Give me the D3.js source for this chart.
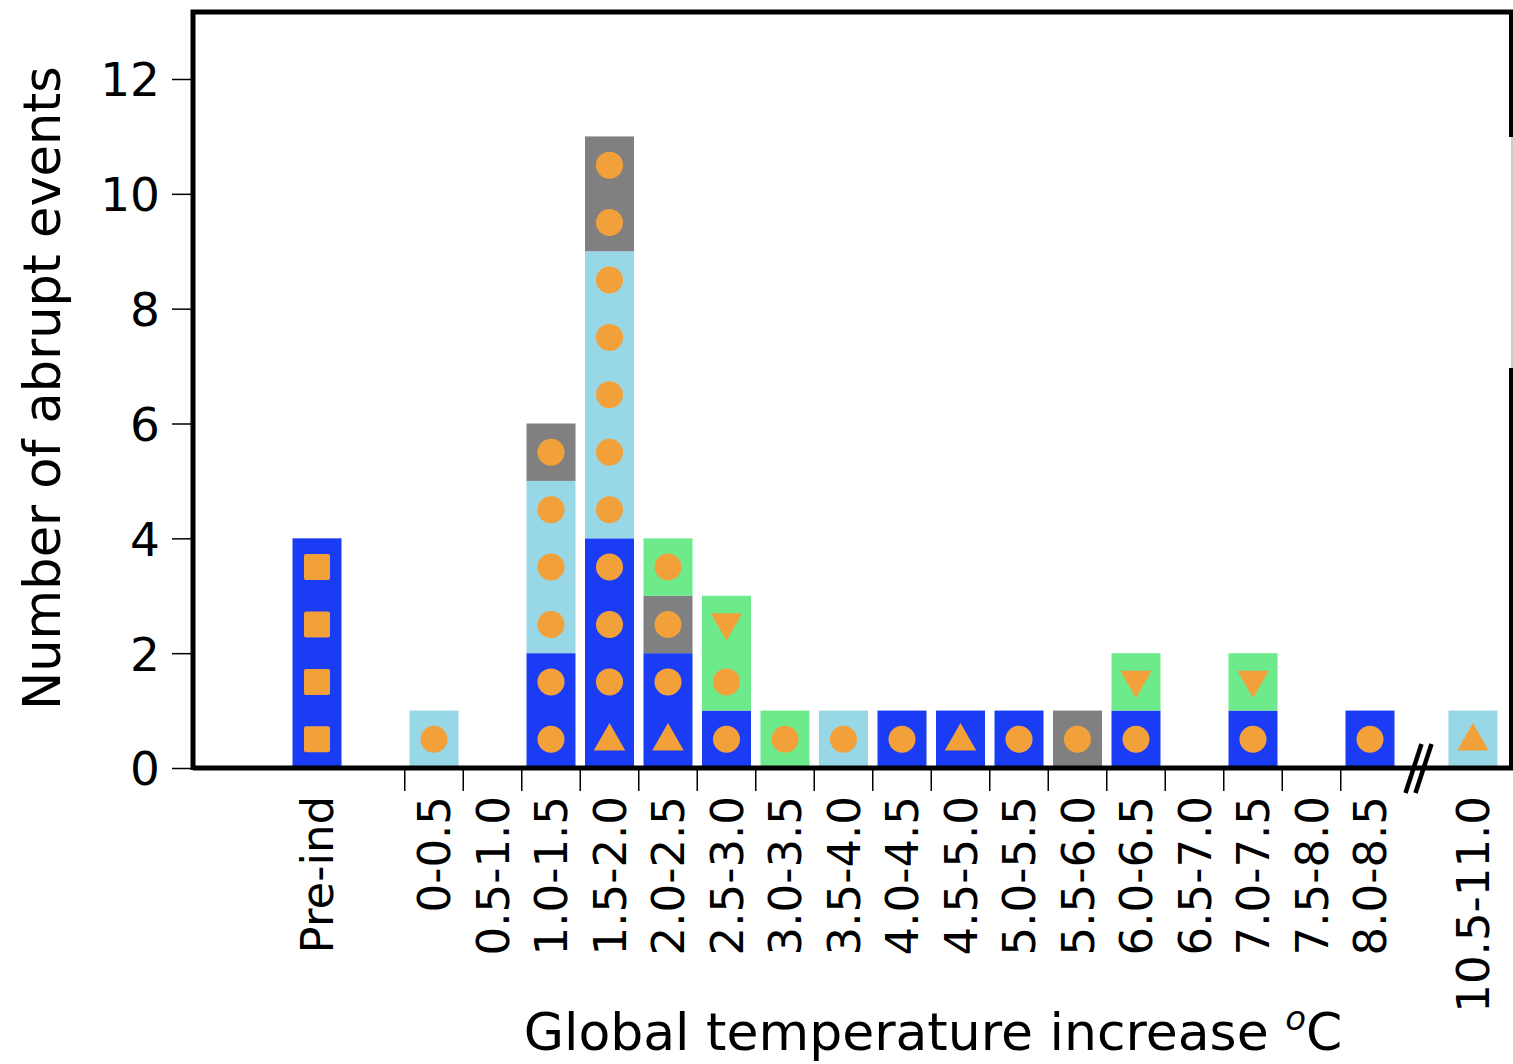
<!DOCTYPE html>
<html>
<head>
<meta charset="utf-8">
<script src="https://cdnjs.cloudflare.com/ajax/libs/d3/7.8.5/d3.min.js"></script>
<style>
  body { margin: 0; background: #fff; }
  text { font-family: 'DejaVu Sans', sans-serif; fill: #000; }
</style>
</head>
<body>
<div id="app"></div>
<script>
// categories (x bins) and counts per stack group, bottom to top
const categories = ['Pre-ind', '0-0.5', '0.5-1.0', '1.0-1.5', '1.5-2.0', '2.0-2.5', '2.5-3.0',
  '3.0-3.5', '3.5-4.0', '4.0-4.5', '4.5-5.0', '5.0-5.5', '5.5-6.0', '6.0-6.5', '6.5-7.0',
  '7.0-7.5', '7.5-8.0', '8.0-8.5', '10.5-11.0'];
const blueCounts  = [4, 0, 0, 2, 4, 2, 1, 0, 0, 1, 1, 1, 0, 1, 0, 1, 0, 1, 0];
const lightCounts = [0, 1, 0, 3, 5, 0, 0, 0, 1, 0, 0, 0, 0, 0, 0, 0, 0, 0, 1];
const grayCounts  = [0, 0, 0, 1, 2, 1, 0, 0, 0, 0, 0, 0, 1, 0, 0, 0, 0, 0, 0];
const greenCounts = [0, 0, 0, 0, 0, 1, 2, 1, 0, 0, 0, 0, 0, 1, 0, 1, 0, 0, 0];
// marker of each event, bottom to top: s square, c circle, u triangle up, d triangle down
const markers = ['ssss', 'c', '', 'cccccc', 'ucccccccccc', 'uccc', 'ccd', 'c', 'c', 'c', 'u', 'c',
  'c', 'cd', '', 'cd', '', 'c', 'u'];
const yTicks = [0, 2, 4, 6, 8, 10, 12];

const width = 1513;
const height = 1064;
const groups = ['blue', 'light', 'gray', 'green'];
const colors = { blue: '#1a3cf5', light: '#98d7e6', gray: '#808080', green: '#6deb8c' };
const orange = '#f2a13a';
const barWidth = 49;

// slot index along the axis: gap before 0-0.5 and a broken gap before 10.5-11.0
const slot = i => (i === 0 ? -2 : i === categories.length - 1 ? 17.76 : i - 1);

const svg = d3.select('#app').append('svg')
  .attr('width', width)
  .attr('height', height);

const x = d3.scaleLinear().domain([0, 1]).range([434, 492.5]);
const y = d3.scaleLinear().domain([0, 12]).range([768, 79]);

const rows = categories.map((c, i) => ({
  cat: c, i,
  blue: blueCounts[i], light: lightCounts[i], gray: grayCounts[i], green: greenCounts[i]
}));
const series = d3.stack().keys(groups)(rows);

// bars
svg.append('g')
  .selectAll('g')
  .data(series)
  .join('g')
  .attr('fill', d => colors[d.key])
  .selectAll('rect')
  .data(d => d.filter(s => s[1] > s[0]))
  .join('rect')
  .attr('x', d => x(slot(d.data.i)) - barWidth / 2)
  .attr('y', d => y(d[1]))
  .attr('width', barWidth)
  .attr('height', d => y(d[0]) - y(d[1]));

// markers
const pts = [];
markers.forEach((m, i) => m.split('').forEach((k, j) => pts.push({ i, k, v: j + 0.5 })));
const tri = d3.symbol().type(d3.symbolTriangle).size(430)();
const mk = svg.append('g').attr('fill', orange)
  .selectAll('g')
  .data(pts)
  .join('g')
  .attr('transform', d => `translate(${x(slot(d.i))},${y(d.v)})`);
mk.filter(d => d.k === 'c').append('circle').attr('r', 13.5);
mk.filter(d => d.k === 's').append('rect')
  .attr('x', -13).attr('y', -13).attr('width', 26).attr('height', 26).attr('rx', 2);
mk.filter(d => d.k === 'u').append('path').attr('d', tri).attr('transform', 'translate(0,2)');
mk.filter(d => d.k === 'd').append('path').attr('d', tri).attr('transform', 'translate(0,-2) rotate(180)');

// y axis
const yAxis = svg.append('g')
  .attr('transform', 'translate(193,0)')
  .call(d3.axisLeft(y).tickValues(yTicks).tickSize(21).tickPadding(12));
yAxis.select('.domain').remove();
yAxis.selectAll('.tick line').attr('stroke-width', 1.5);
yAxis.selectAll('.tick text').style('font-size', '47px').attr('dy', '0.36em');

// x ticks at bin boundaries
const tickIdx = d3.range(1, categories.length - 1);
svg.append('g')
  .selectAll('line')
  .data(tickIdx)
  .join('line')
  .attr('x1', i => x(slot(i) - 0.5))
  .attr('x2', i => x(slot(i) - 0.5))
  .attr('y1', 768)
  .attr('y2', 791)
  .attr('stroke', '#000')
  .attr('stroke-width', 1.5);

// x labels
svg.append('g')
  .selectAll('text')
  .data(categories)
  .join('text')
  .attr('transform', (c, i) => `translate(${x(slot(i))},796) rotate(-90)`)
  .attr('text-anchor', 'end')
  .attr('dy', '0.36em')
  .style('font-size', '45px')
  .text(c => c);

// frame
const frame = svg.append('g').attr('stroke', '#000').attr('fill', 'none');
frame.append('path').attr('d', 'M193,770 V12 H1513').attr('stroke-width', 5);
frame.append('line').attr('x1', 193).attr('x2', 1513).attr('y1', y(0)).attr('y2', y(0)).attr('stroke-width', 5);
frame.append('line').attr('x1', 1511).attr('x2', 1511).attr('y1', 12).attr('y2', 137).attr('stroke-width', 4);
frame.append('line').attr('x1', 1512).attr('x2', 1512).attr('y1', 137).attr('y2', 368).attr('stroke-width', 1).attr('stroke', '#999');
frame.append('line').attr('x1', 1511).attr('x2', 1511).attr('y1', 368).attr('y2', 770).attr('stroke-width', 4);

// axis break mark
const bx = (x(slot(17)) + x(slot(18))) / 2 - 3;
[-5, 5].forEach(o => {
  frame.append('line')
    .attr('x1', bx + o - 8).attr('y1', 793)
    .attr('x2', bx + o + 8).attr('y2', 744)
    .attr('stroke-width', 4.5);
});

// axis titles
svg.append('text')
  .attr('transform', 'translate(42,388) rotate(-90)')
  .attr('text-anchor', 'middle')
  .attr('dy', '0.36em')
  .style('font-size', '51px')
  .text('Number of abrupt events');

const xt = svg.append('text')
  .attr('x', 933)
  .attr('y', 1050)
  .attr('text-anchor', 'middle')
  .style('font-size', '52px');
xt.append('tspan').text('Global temperature increase ');
xt.append('tspan').attr('font-style', 'italic').attr('dy', -20).style('font-size', '34px').text('o');
xt.append('tspan').attr('dy', 20).text('C');
</script>
</body>
</html>
